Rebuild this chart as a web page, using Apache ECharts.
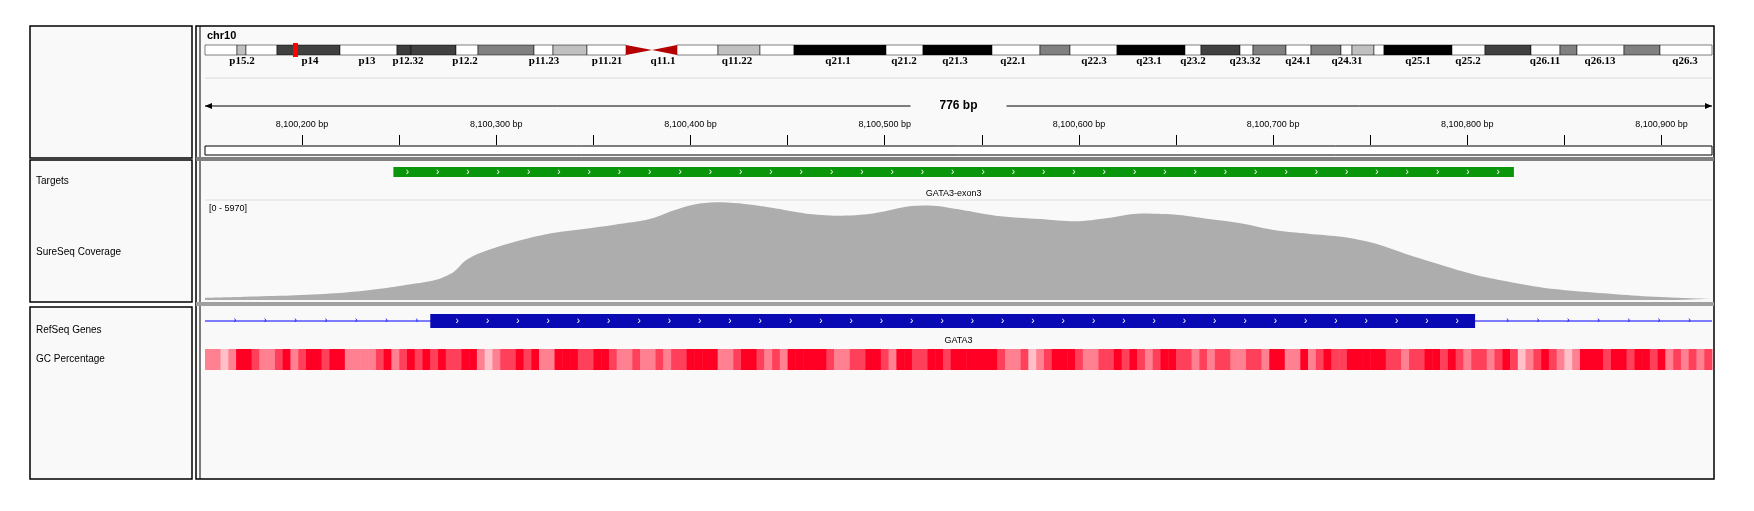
<!DOCTYPE html>
<html><head><meta charset="utf-8">
<script src="https://cdn.jsdelivr.net/npm/echarts@6/dist/echarts.min.js"></script>
<style>html,body{margin:0;padding:0;background:#fff}#container{width:1754px;height:511px}</style>
</head><body><div id="container"></div>
<script>
var dom = document.getElementById("container");
var myChart = echarts.init(dom);

var regionStart = 8100150, regionEnd = 8100926;
// ideogram bands in ideogram pixel units: [start, end, color]
var bands = [
	[205, 237, '#ffffff'], [237, 246, '#c0c0c0'], [246, 277, '#ffffff'], [277, 340, '#404040'],
	[340, 397, '#ffffff'], [397, 411, '#3c3c3c'], [411, 456, '#404040'], [456, 478, '#ffffff'],
	[478, 534, '#808080'], [534, 553, '#ffffff'], [553, 587, '#c0c0c0'], [587, 626, '#ffffff'],
	[677, 718, '#ffffff'], [718, 760, '#c0c0c0'], [760, 794, '#ffffff'], [794, 886, '#000000'],
	[886, 923, '#ffffff'], [923, 992, '#000000'], [992, 1040, '#ffffff'], [1040, 1070, '#808080'],
	[1070, 1117, '#ffffff'], [1117, 1185, '#000000'], [1185, 1201, '#ffffff'], [1201, 1240, '#404040'],
	[1240, 1253, '#ffffff'], [1253, 1286, '#808080'], [1286, 1311, '#ffffff'], [1311, 1341, '#808080'],
	[1341, 1352, '#ffffff'], [1352, 1374, '#c0c0c0'], [1374, 1384, '#ffffff'], [1384, 1452, '#000000'],
	[1452, 1485, '#ffffff'], [1485, 1531, '#404040'], [1531, 1560, '#ffffff'], [1560, 1577, '#808080'],
	[1577, 1624, '#ffffff'], [1624, 1660, '#808080'], [1660, 1712, '#ffffff']
];
var centromere = [626, 652, 677];
var marker = [293, 298];
var bandLabels = ['p15.2','p14','p13','p12.32','p12.2','p11.23','p11.21','q11.1','q11.22','q21.1','q21.2','q21.3','q22.1','q22.3','q23.1','q23.2','q23.32','q24.1','q24.31','q25.1','q25.2','q26.11','q26.13','q26.3'];
var bandLabelX = [242,310,367,408,465,544,607,663,737,838,904,955,1013,1094,1149,1193,1245,1298,1347,1418,1468,1545,1600,1685];

var targets = [[8100247, 8100824, 'GATA3-exon3']];
var gene = { name: 'GATA3', start: 8100150, end: 8100926, cdsStart: 8100266, cdsEnd: 8100804 };

var covPos = [0,21,44,67,85,102,119,128,134,142,160,177,194,211,229,240,252,263,275,292,309,326,344,361,373,390,407,430,448,465,482,499,517,534,551,568,586,603,620,637,655,672,689,712,735,758,776];
var covVal = [136,203,271,407,610,881,1220,1695,2373,2848,3526,4000,4271,4543,4882,5356,5763,5899,5831,5560,5221,5085,5221,5627,5695,5424,5085,4882,4746,4950,5221,5153,4882,4610,4204,4000,3797,3390,2712,2102,1492,1085,746,475,271,136,68];
var covMax = 5970;

// GC level per 4 bp window: 0 = high GC (dark red) .. 3 = low GC (pale)
var gcLevel = [2,2,3,2,0,0,1,2,2,1,0,2,1,0,0,1,0,0,2,2,2,2,1,0,2,1,0,1,0,1,0,1,1,0,0,2,3,2,1,1,
	0,1,0,2,2,0,0,0,1,1,0,0,1,2,2,1,2,2,1,2,1,1,0,0,0,0,2,2,1,0,0,1,2,1,2,0,0,0,0,0,
	1,2,2,1,1,0,0,1,2,0,0,1,1,0,0,1,0,
	0,0,0,0,0,1,2,2,1,3,2,1,0,0,0,1,2,2,1,1,0,1,0,1,2,1,0,0,1,1,2,1,2,1,1,2,2,1,1,2,
	0,0,2,2,0,2,1,0,1,1,0,0,0,0,0,1,1,2,1,1,0,0,1,0,1,2,1,1,2,1,0,1,3,2,1,0,1,2,3,2,
	0,0,0,1,0,0,1,0,0,1,0,2,1,2,1,2,1];
var gcColors = ['#ff0024', '#ff405a', '#ff8090', '#ffc0c8'];
var gcStep = 4;

var font = 'Liberation Sans';
var L = 205, R = 1754 - 1712;

function fmt(v) { return v.toString().replace(/\B(?=(\d{3})+(?!\d))/g, ','); }

var panelGraphics = [
	{type:'rect', shape:{x:30,y:26,width:162,height:132}, style:{fill:'#f9f9f9',stroke:'#000',lineWidth:1.5}},
	{type:'rect', shape:{x:30,y:160,width:162,height:142}, style:{fill:'#f9f9f9',stroke:'#000',lineWidth:1.5}},
	{type:'rect', shape:{x:30,y:307,width:162,height:172}, style:{fill:'#f9f9f9',stroke:'#000',lineWidth:1.5}},
	{type:'rect', shape:{x:196,y:26,width:1518,height:453}, style:{fill:'#f9f9f9',stroke:'#000',lineWidth:1.5}},
	{type:'line', shape:{x1:200,y1:26,x2:200,y2:479}, style:{stroke:'#000',lineWidth:1}},
	{type:'rect', shape:{x:196,y:157,width:1518,height:4}, style:{fill:'#808080'}},
	{type:'rect', shape:{x:196,y:302,width:1518,height:4}, style:{fill:'#a0a0a0'}},
	{type:'line', shape:{x1:205,y1:78,x2:1712,y2:78}, style:{stroke:'#d8d8d8',lineWidth:1}},
	{type:'line', shape:{x1:205,y1:200,x2:1712,y2:200}, style:{stroke:'#dcdcdc',lineWidth:1}},
	{type:'rect', shape:{x:205,y:146,width:1507,height:9}, style:{fill:'#fff',stroke:'#000',lineWidth:1}},
	{type:'text', x:207, y:30, style:{text:'chr10', font:'bold 11px ' + font, fill:'#000'}},
	{type:'text', x:36, y:176, style:{text:'Targets', font:'10px ' + font, fill:'#000'}},
	{type:'text', x:36, y:247, style:{text:'SureSeq Coverage', font:'10px ' + font, fill:'#000'}},
	{type:'text', x:36, y:325, style:{text:'RefSeq Genes', font:'10px ' + font, fill:'#000'}},
	{type:'text', x:36, y:354, style:{text:'GC Percentage', font:'10px ' + font, fill:'#000'}},
	{type:'text', x:209, y:204, style:{text:'[0 - ' + covMax + ']', font:'9px ' + font, fill:'#000'}}
];

option = {
	animation: false,
	backgroundColor: '#ffffff',
	graphic: panelGraphics,
	grid: [
		{left: L, right: R, top: 45, height: 10},
		{left: L, right: R, top: 95, height: 50},
		{left: L, right: R, top: 165, height: 30},
		{left: L, right: R, top: 201, height: 99},
		{left: L, right: R, top: 310, height: 60}
	],
	xAxis: [
		{type:'value', gridIndex:0, min:205, max:1712, show:false},
		{type:'value', gridIndex:1, min:regionStart, max:regionEnd, interval:50, position:'bottom',
			axisLine:{show:false}, splitLine:{show:false},
			axisTick:{inside:true, length:10, lineStyle:{color:'#000'}},
			axisLabel:{inside:true, margin:16, fontSize:9, fontFamily:font, color:'#000',
				showMinLabel:false, showMaxLabel:false,
				formatter:function(v){ return v % 100 === 0 ? fmt(v) + ' bp' : ''; }}},
		{type:'value', gridIndex:2, min:regionStart, max:regionEnd, show:false},
		{type:'value', gridIndex:3, min:0, max:regionEnd - regionStart, show:false},
		{type:'value', gridIndex:4, min:regionStart, max:regionEnd, show:false}
	],
	yAxis: [
		{type:'value', gridIndex:0, min:0, max:1, show:false},
		{type:'value', gridIndex:1, min:0, max:1, show:false},
		{type:'value', gridIndex:2, min:0, max:1, show:false},
		{type:'value', gridIndex:3, min:0, max:covMax, show:false},
		{type:'value', gridIndex:4, min:0, max:1, show:false}
	],
	series: [
		{ // ideogram bands
			type:'custom', xAxisIndex:0, yAxisIndex:0, data: bands,
			renderItem: function(params, api) {
				var b = bands[params.dataIndex];
				var p0 = api.coord([b[0], 1]), p1 = api.coord([b[1], 0]);
				return {type:'rect', shape:{x:p0[0], y:p0[1], width:p1[0]-p0[0], height:p1[1]-p0[1]},
					style:{fill:b[2], stroke:'#000', lineWidth:0.5}};
			}
		},
		{ // centromere + marker + labels
			type:'custom', xAxisIndex:0, yAxisIndex:0, data:[0],
			renderItem: function(params, api) {
				var a = api.coord([centromere[0], 1]), m = api.coord([centromere[1], 0.5]), c = api.coord([centromere[2], 0]);
				var kids = [
					{type:'polygon', shape:{points:[[a[0],a[1]],[m[0],m[1]],[a[0],c[1]]]}, style:{fill:'#b40000'}},
					{type:'polygon', shape:{points:[[c[0],a[1]],[m[0],m[1]],[c[0],c[1]]]}, style:{fill:'#b40000'}}
				];
				var k0 = api.coord([marker[0], 1]), k1 = api.coord([marker[1], 0]);
				kids.push({type:'rect', shape:{x:k0[0], y:k0[1]-2, width:k1[0]-k0[0], height:k1[1]-k0[1]+4}, style:{fill:'#ff0000'}});
				bandLabels.forEach(function(lb, i) {
					var p = api.coord([bandLabelX[i], 0]);
					kids.push({type:'text', x:p[0], y:p[1]+1, style:{text:lb, font:'bold 11px "Liberation Serif"', fill:'#000', align:'center', verticalAlign:'top'}});
				});
				return {type:'group', children:kids};
			}
		},
		{ // ruler arrow line with span
			type:'custom', xAxisIndex:1, yAxisIndex:1, data:[0],
			renderItem: function(params, api) {
				var a = api.coord([regionStart, 0.78]), b = api.coord([regionEnd, 0.78]);
				var mid = (a[0] + b[0]) / 2, y = a[1];
				return {type:'group', children:[
					{type:'line', shape:{x1:a[0], y1:y, x2:mid-48, y2:y}, style:{stroke:'#000', lineWidth:1}},
					{type:'line', shape:{x1:mid+48, y1:y, x2:b[0], y2:y}, style:{stroke:'#000', lineWidth:1}},
					{type:'polygon', shape:{points:[[a[0],y],[a[0]+7,y-3],[a[0]+7,y+3]]}, style:{fill:'#000'}},
					{type:'polygon', shape:{points:[[b[0],y],[b[0]-7,y-3],[b[0]-7,y+3]]}, style:{fill:'#000'}},
					{type:'text', x:mid, y:y, style:{text:(regionEnd - regionStart) + ' bp', font:'bold 12px ' + font, fill:'#000', align:'center', verticalAlign:'middle'}}
				]};
			}
		},
		{ // targets
			type:'custom', xAxisIndex:2, yAxisIndex:2, data: targets,
			renderItem: function(params, api) {
				var t = targets[params.dataIndex];
				var p0 = api.coord([t[0], 1]), p1 = api.coord([t[1], 0.65]);
				var kids = [{type:'rect', shape:{x:p0[0], y:p0[1]+2, width:p1[0]-p0[0], height:10}, style:{fill:'#0a960a'}}];
				for (var x = p0[0] + 14; x < p1[0] - 6; x += 30.3) {
					kids.push({type:'text', x:x, y:p0[1]+7, style:{text:'›', font:'10px ' + font, fill:'#fff', align:'center', verticalAlign:'middle'}});
				}
				kids.push({type:'text', x:(p0[0]+p1[0])/2, y:p0[1]+29, style:{text:t[2], font:'9px ' + font, fill:'#000', align:'center', verticalAlign:'middle'}});
				return {type:'group', children:kids};
			}
		},
		{ // coverage
			type:'line', xAxisIndex:3, yAxisIndex:3, showSymbol:false, smooth:0.3,
			data: covPos.map(function(p, i){ return [p, covVal[i]]; }),
			lineStyle:{width:0}, areaStyle:{color:'#adadad', opacity:1}
		},
		{ // gene + GC
			type:'custom', xAxisIndex:4, yAxisIndex:4, data:[0],
			renderItem: function(params, api) {
				var s = api.coord([gene.start, 0]), e = api.coord([gene.end, 0]);
				var cs = api.coord([gene.cdsStart, 0]), ce = api.coord([gene.cdsEnd, 0]);
				var top = s[1] - 60, y = top + 11;
				var kids = [{type:'line', shape:{x1:s[0], y1:y, x2:e[0], y2:y}, style:{stroke:'#0000ff', lineWidth:1}}];
				for (var x = s[0] + 30; x < e[0]; x += 30.3) {
					if (x > cs[0] - 6 && x < ce[0] + 6) continue;
					kids.push({type:'text', x:x, y:y, style:{text:'›', font:'9px ' + font, fill:'#0000ff', align:'center', verticalAlign:'middle'}});
				}
				kids.push({type:'rect', shape:{x:cs[0], y:y-7, width:ce[0]-cs[0], height:14}, style:{fill:'#0a0ab4'}});
				for (var x2 = cs[0] + 27; x2 < ce[0] - 6; x2 += 30.3) {
					kids.push({type:'text', x:x2, y:y, style:{text:'›', font:'10px ' + font, fill:'#fff', align:'center', verticalAlign:'middle'}});
				}
				kids.push({type:'text', x:(s[0]+e[0])/2, y:y+20, style:{text:gene.name, font:'9px ' + font, fill:'#000', align:'center', verticalAlign:'middle'}});
				gcLevel.forEach(function(g, i) {
					var a = api.coord([gene.start + i * gcStep, 0]);
					var b = api.coord([Math.min(gene.start + (i + 1) * gcStep, gene.end), 0]);
					kids.push({type:'rect', shape:{x:a[0], y:top+39, width:b[0]-a[0]+0.5, height:21},
						style:{fill:gcColors[g]}});
				});
				return {type:'group', children:kids};
			}
		}
	]
};
myChart.setOption(option);
</script></body></html>
